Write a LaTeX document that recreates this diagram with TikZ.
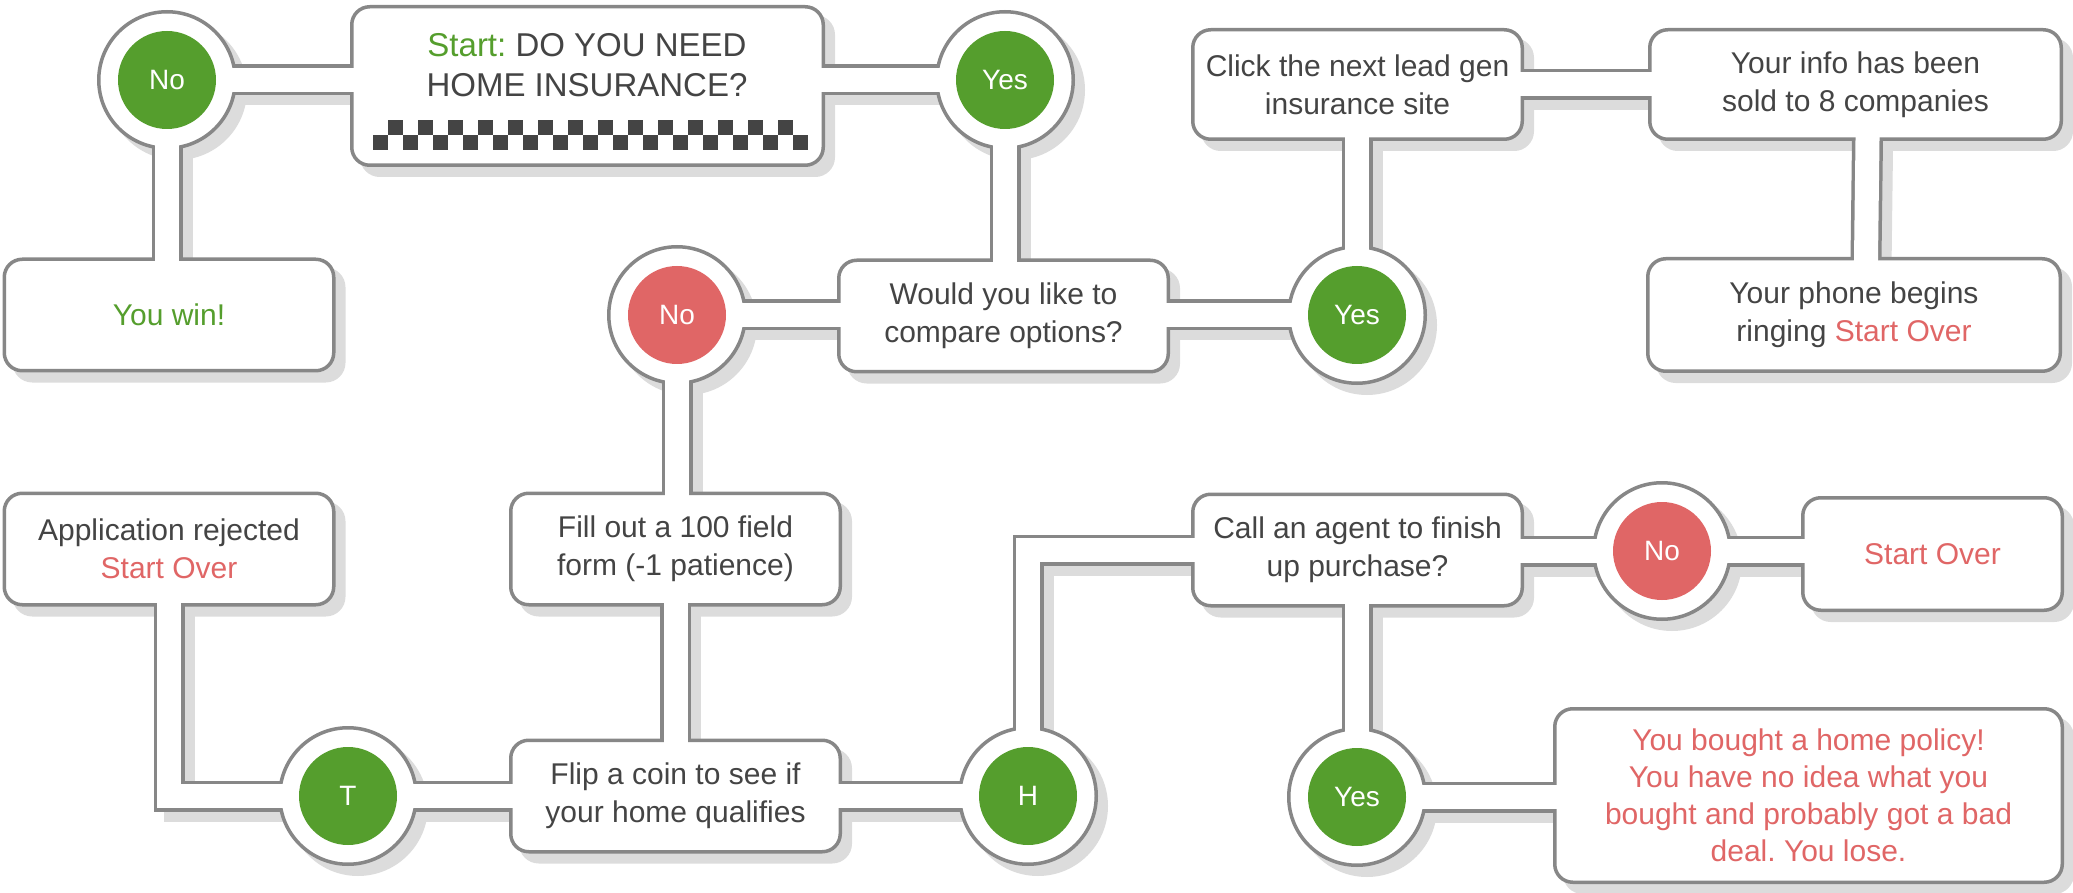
\documentclass[tikz,border=0pt]{standalone}
\usepackage{fontspec}
\setmainfont{Liberation Sans}
\frenchspacing
\definecolor{linegrey}{HTML}{878787}
\definecolor{shadowc}{HTML}{DCDCDC}
\definecolor{textdark}{HTML}{444444}
\definecolor{mygreen}{HTML}{559E2D}
\definecolor{myred}{HTML}{E06666}
\pgfdeclarelayer{shadow}
\pgfdeclarelayer{pipeg}
\pgfdeclarelayer{pipew}
\pgfsetlayers{shadow,pipeg,main,pipew}
\tikzset{
  pipegrey/.style={line width=31pt, draw=linegrey, line join=miter, shorten <=-15pt, shorten >=-15pt},
  pipewhite/.style={line width=24pt, draw=white, line join=miter, shorten <=-5pt, shorten >=-5pt},
  pipeshadow/.style={pipegrey, draw=shadowc, transform canvas={xshift=10pt,yshift=-10pt}},
  box/.style={rectangle, rounded corners=18pt, draw=linegrey, line width=3.5pt, fill=white,
    minimum width=329.5pt, minimum height=111.5pt, inner sep=0pt, outer sep=0pt,
    align=center, text=textdark, font=\fontsize{30}{38}\selectfont},
  decision/.style={circle, minimum size=136.5pt, inner sep=0pt, outer sep=0pt, fill=white,
    draw=linegrey, line width=3.5pt, text=white, font=\fontsize{28}{34}\selectfont,
    path picture={\fill[#1] (path picture bounding box.center) circle (49pt);}},
}
\newcommand\mkpipe[1]{%
  \begin{pgfonlayer}{shadow}\draw[pipeshadow] #1;\end{pgfonlayer}%
  \begin{pgfonlayer}{pipeg}\draw[pipegrey] #1;\end{pgfonlayer}%
  \begin{pgfonlayer}{pipew}\draw[pipewhite] #1;\end{pgfonlayer}}
\newcommand\boxshadow[1]{%
  \begin{pgfonlayer}{shadow}\filldraw[shadowc, line width=3.5pt, rounded corners=18pt,
    transform canvas={xshift=10pt,yshift=-10pt}] (#1.north west) rectangle (#1.south east);\end{pgfonlayer}}
\newcommand\circshadow[1]{%
  \begin{pgfonlayer}{shadow}\filldraw[shadowc, line width=3.5pt,
    transform canvas={xshift=10pt,yshift=-10pt}] (#1.center) circle (68.25pt);\end{pgfonlayer}}
\begin{document}
\begin{tikzpicture}[x=1pt,y=-1pt]
\useasboundingbox (0,0) rectangle (2073,893);
% boxes
\node[box, minimum width=471.5pt, minimum height=158.5pt] (start) at (587.5,86) {};
\node[box] (youwin) at (169,315) {\textcolor{mygreen}{You win!}};
\node[box] (would) at (1003.5,316) {Would you like to\\compare options?};
\node[box, minimum height=109.5pt] (click) at (1357.5,84.5) {Click the next lead gen\\insurance site};
\node[box, minimum width=411.5pt, minimum height=109.5pt] (info) at (1855.5,84.5) {Your info has been\\sold to 8 companies};
\node[box, minimum width=412.5pt, minimum height=112.5pt] (phone) at (1854,315) {Your phone begins\\ringing \textcolor{myred}{Start Over}};
\node[box] (app) at (169,549) {Application rejected\\\textcolor{myred}{Start Over}};
\node[box] (fill) at (675.5,549) {Fill out a 100 field\\form (-1 patience)};
\node[box] (flip) at (675.5,796) {Flip a coin to see if\\your home qualifies};
\node[box] (call) at (1357.5,550) {Call an agent to finish\\up purchase?};
\node[box, minimum width=259.5pt, minimum height=112.5pt] (startover) at (1932.5,554) {\textcolor{myred}{Start Over}};
\node[box, minimum width=507.5pt, minimum height=173.5pt, font=\fontsize{30}{37}\selectfont, text=myred] (final) at (1808.5,795.5)
  {You bought a home policy!\\You have no idea what you\\bought and probably got a bad\\deal. You lose.};
% decisions
\node[decision=mygreen] (no1) at (167,80) {No};
\node[decision=mygreen] (yes1) at (1005,80) {Yes};
\node[decision=myred] (no2) at (677,315) {No};
\node[decision=mygreen] (yes2) at (1357,315) {Yes};
\node[decision=mygreen] (tails) at (348,796) {T};
\node[decision=mygreen] (heads) at (1028,796) {H};
\node[decision=myred] (no3) at (1662,551) {No};
\node[decision=mygreen] (yes3) at (1357,797) {Yes};
% shadows
\foreach \n in {start,youwin,would,click,info,phone,app,fill,flip,call,startover,final} {\boxshadow{\n}}
\foreach \n in {no1,yes1,no2,yes2,tails,heads,no3,yes3} {\circshadow{\n}}
% start text and checkerboard
\node[font=\fontsize{33}{40}\selectfont, text=textdark, align=center, inner sep=0pt] (starttext) at (587,65)
  {\textcolor{mygreen}{Start:} DO YOU NEED\\HOME INSURANCE?};
\foreach \k in {0,...,14} \fill[textdark] (373+30*\k,135) rectangle ++(15,15);
\foreach \k in {0,...,13} \fill[textdark] (388+30*\k,120) rectangle ++(15,15);
% pipes
\mkpipe{(no1.east) -- (no1.east -| start.west)}
\mkpipe{(no1.south) -- (no1.south |- youwin.north)}
\mkpipe{(yes1.west) -- (yes1.west -| start.east)}
\mkpipe{(yes1.south) -- (yes1.south |- would.north)}
\mkpipe{(no2.east) -- (no2.east -| would.west)}
\mkpipe{(yes2.west) -- (yes2.west -| would.east)}
\mkpipe{(yes2.north) -- (yes2.north |- click.south)}
\mkpipe{(click.east) -- (info.west)}
\mkpipe{([xshift=12pt]info.south) -- ([xshift=12pt]phone.north)}
\mkpipe{(no2.south) -- (no2.south |- fill.north)}
\mkpipe{(fill.south) -- (flip.north)}
\mkpipe{(app.south) |- (tails.west)}
\mkpipe{(tails.east) -- (tails.east -| flip.west)}
\mkpipe{(heads.west) -- (heads.west -| flip.east)}
\mkpipe{(heads.north) |- (call.west)}
\mkpipe{(no3.west) -- (no3.west -| call.east)}
\mkpipe{(no3.east) -- (no3.east -| startover.west)}
\mkpipe{(yes3.north) -- (yes3.north |- call.south)}
\mkpipe{(yes3.east) -- (yes3.east -| final.west)}
\end{tikzpicture}
\end{document}
